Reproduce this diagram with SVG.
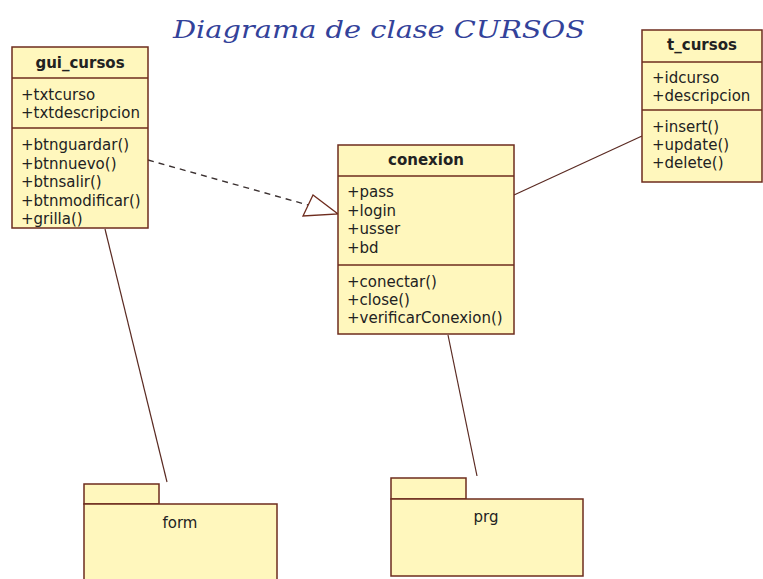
<svg xmlns="http://www.w3.org/2000/svg" width="763" height="579" viewBox="0 0 763 579">
  <style>
    .box { fill: #fff7bd; stroke: #6e2c1e; stroke-width: 1.5; }
    .sep { stroke: #6e2c1e; stroke-width: 1.5; fill: none; }
    .ttl { font-family: "DejaVu Sans", Verdana, sans-serif; font-size: 15px; font-weight: bold; fill: #222; text-anchor: middle; }
    .mem { font-family: "DejaVu Sans", Verdana, sans-serif; font-size: 15px; fill: #222; }
    .pkg { font-family: "DejaVu Sans", Verdana, sans-serif; font-size: 15px; fill: #222; text-anchor: middle; }
    .title { font-family: "DejaVu Serif", "Liberation Serif", serif; font-style: italic; font-size: 25px; fill: #33429a; }
    .assoc { stroke: #5a2a22; stroke-width: 1.2; fill: none; }
    .dash { stroke: #3a3030; stroke-width: 1.4; stroke-dasharray: 6 5; fill: none; }
    .tri { stroke: #6e2c1e; stroke-width: 1.3; fill: #ffffff; }
  </style>
  <rect width="763" height="579" fill="#ffffff"/>
  <text class="title" x="173" y="38" textLength="412" lengthAdjust="spacingAndGlyphs">Diagrama de clase CURSOS</text>

  <g id="connectors">
    <line class="dash" x1="148" y1="160" x2="308" y2="205"/>
    <polygon class="tri" points="303,216 313,195 338,214"/>
    <line class="assoc" x1="514" y1="195" x2="642" y2="136"/>
    <line class="assoc" x1="105" y1="229" x2="167" y2="482"/>
    <line class="assoc" x1="448" y1="335" x2="477" y2="476"/>
  </g>

  <g id="gui_cursos">
    <rect class="box" x="12" y="47" width="136" height="181"/>
    <line class="sep" x1="12" y1="78" x2="148" y2="78"/>
    <line class="sep" x1="12" y1="128" x2="148" y2="128"/>
    <text class="ttl" x="80" y="68">gui_cursos</text>
    <text class="mem" x="21" y="100">+txtcurso</text>
    <text class="mem" x="21" y="118">+txtdescripcion</text>
    <text class="mem" x="21" y="150">+btnguardar()</text>
    <text class="mem" x="21" y="168.5">+btnnuevo()</text>
    <text class="mem" x="21" y="187">+btnsalir()</text>
    <text class="mem" x="21" y="205.5">+btnmodificar()</text>
    <text class="mem" x="21" y="224">+grilla()</text>
  </g>

  <g id="conexion">
    <rect class="box" x="338" y="145" width="176" height="189"/>
    <line class="sep" x1="338" y1="176" x2="514" y2="176"/>
    <line class="sep" x1="338" y1="265" x2="514" y2="265"/>
    <text class="ttl" x="426" y="165">conexion</text>
    <text class="mem" x="347" y="197">+pass</text>
    <text class="mem" x="347" y="215.5">+login</text>
    <text class="mem" x="347" y="234">+usser</text>
    <text class="mem" x="347" y="252.5">+bd</text>
    <text class="mem" x="347" y="287">+conectar()</text>
    <text class="mem" x="347" y="305">+close()</text>
    <text class="mem" x="347" y="323">+verificarConexion()</text>
  </g>

  <g id="t_cursos">
    <rect class="box" x="642" y="30" width="120" height="152"/>
    <line class="sep" x1="642" y1="62" x2="762" y2="62"/>
    <line class="sep" x1="642" y1="110" x2="762" y2="110"/>
    <text class="ttl" x="702" y="50">t_cursos</text>
    <text class="mem" x="652" y="83">+idcurso</text>
    <text class="mem" x="652" y="101">+descripcion</text>
    <text class="mem" x="652" y="132">+insert()</text>
    <text class="mem" x="652" y="150">+update()</text>
    <text class="mem" x="652" y="168">+delete()</text>
  </g>

  <g id="form">
    <rect class="box" x="84" y="484" width="75" height="20"/>
    <rect class="box" x="84" y="504" width="193" height="79"/>
    <text class="pkg" x="180" y="528">form</text>
  </g>

  <g id="prg">
    <rect class="box" x="391" y="478" width="75" height="21"/>
    <rect class="box" x="391" y="499" width="192" height="77"/>
    <text class="pkg" x="486" y="522">prg</text>
  </g>
</svg>
